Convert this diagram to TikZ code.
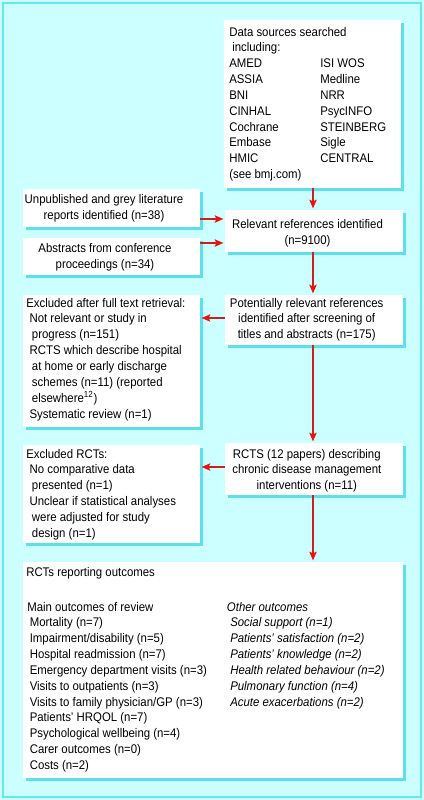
\documentclass[tikz,border=0pt]{standalone}
\usepackage{fontspec}
\setmainfont{Liberation Sans}[FakeStretch=0.91]
\usetikzlibrary{arrows.meta,fit,shadows}
\definecolor{bgc}{HTML}{CCFFFF}
\definecolor{framec}{HTML}{66E8EE}
\definecolor{shadc}{HTML}{5EE0EC}
\definecolor{linec}{HTML}{CC2020}
\definecolor{tipc}{HTML}{EE1111}
\newcommand\dfont{\fontsize{9.4}{11.9}\selectfont}
\tikzset{
  box/.style={fill=white, inner sep=0pt, draw=none,
    drop shadow={shadow xshift=2.25pt, shadow yshift=-2.25pt, fill=shadc, opacity=1}},
  txt/.style={inner sep=0pt, anchor=base west, font=\dfont},
  itxt/.style={inner sep=0pt, anchor=base west, font=\dfont\itshape},
  ctxt/.style={inner sep=0pt, anchor=base, font=\dfont},
  arr/.style={draw=linec, line width=1pt,
    -{Stealth[length=6.5pt,width=5.5pt,inset=1.2pt,color=tipc]}, shorten >=1pt}
}
\begin{document}
\begin{tikzpicture}[x=0.75pt,y=-0.75pt]
\useasboundingbox (0,0) rectangle (424,800);
\fill[bgc] (0,0) rectangle (424,800);
\draw[framec, line width=1.4pt] (3,3) rectangle (421,797);

% boxes
\node[box, fit={(224,20) (401,188)}] (ds) {};
\node[box, fit={(23,189) (200,227)}] (unp) {};
\node[box, fit={(225,210) (403,252)}] (rel) {};
\node[box, fit={(23,238) (200,275)}] (abs) {};
\node[box, fit={(23,295) (200,427)}] (exf) {};
\node[box, fit={(225,295) (403,345)}] (pot) {};
\node[box, fit={(23,445) (200,543)}] (exr) {};
\node[box, fit={(225,443) (403,495)}] (rcts) {};
\node[box, fit={(23,562) (403,778)}] (out) {};

% data sources
\node[txt] (ds0) at (229,36) {Data sources searched};
\node[txt] (ds1) at (232,51.9) {including:};
\foreach \a/\b [count=\i from 0] in {AMED/ISI WOS, ASSIA/Medline, BNI/NRR, CINHAL/PsycINFO, Cochrane/STEINBERG, Embase/Sigle, HMIC/CENTRAL} {
  \node[txt] (dsl\i) at (229,{67.7+15.85*\i}) {\a};
  \node[txt] (dsr\i) at (320,{67.7+15.85*\i}) {\b};
}
\node[txt] (ds9) at (229,178.6) {(see bmj.com)};

% unpublished
\node[ctxt] (unp1) at (104,203) {Unpublished and grey literature};
\node[ctxt] (unp2) at (104,219) {reports identified (n=38)};
% relevant
\node[ctxt] (rel1) at (307.5,228) {Relevant references identified};
\node[ctxt] (rel2) at (307.5,244) {(n=9100)};
% abstracts
\node[ctxt] (abs1) at (105,252) {Abstracts from conference};
\node[ctxt] (abs2) at (105,268) {proceedings (n=34)};
% excluded full text
\node[txt] (exf0) at (26,307) {Excluded after full text retrieval:};
\node[txt] (exf1) at (29.3,322.9) {Not relevant or study in};
\node[txt] (exf2) at (31.7,338.7) {progress (n=151)};
\node[txt] (exf3) at (29.3,354.6) {RCTS which describe hospital};
\node[txt] (exf4) at (31.7,370.4) {at home or early discharge};
\node[txt] (exf5) at (31.7,386.3) {schemes (n=11) (reported};
\node[txt] (exf6) at (31.7,402.1) {elsewhere\textsuperscript{12})};
\node[txt] (exf7) at (29.3,418) {Systematic review (n=1)};
% potentially relevant
\node[ctxt] (pot1) at (306.7,307) {Potentially relevant references};
\node[ctxt] (pot2) at (306.7,322.9) {identified after screening of};
\node[ctxt] (pot3) at (306.7,338.7) {titles and abstracts (n=175)};
% excluded RCTs
\node[txt] (exr0) at (26,458) {Excluded RCTs:};
\node[txt] (exr1) at (29.3,473.9) {No comparative data};
\node[txt] (exr2) at (31.7,489.7) {presented (n=1)};
\node[txt] (exr3) at (29.3,505.6) {Unclear if statistical analyses};
\node[txt] (exr4) at (31.7,521.4) {were adjusted for study};
\node[txt] (exr5) at (31.7,537.3) {design (n=1)};
% RCTS 12 papers
\node[ctxt] (rc1) at (306.8,458) {RCTS (12 papers) describing};
\node[ctxt] (rc2) at (306.8,473.9) {chronic disease management};
\node[ctxt] (rc3) at (306.8,489.7) {interventions (n=11)};
% outcomes
\node[txt] (o0) at (26,576) {RCTs reporting outcomes};
\node[txt] (m0) at (27,611) {Main outcomes of review};
\foreach \t [count=\i] in {Mortality (n=7), Impairment/disability (n=5), Hospital readmission (n=7), Emergency department visits (n=3), Visits to outpatients (n=3), Visits to family physician/GP (n=3), Patients' HRQOL (n=7), Psychological wellbeing (n=4), Carer outcomes (n=0), Costs (n=2)}
  \node[txt] (m\i) at (29.5,{611+15.85*\i}) {\t};
\node[itxt] (r0) at (226.7,611) {Other outcomes};
\foreach \t [count=\i] in {Social support (n=1), Patients' satisfaction (n=2), Patients' knowledge (n=2), Health related behaviour (n=2), Pulmonary function (n=4), Acute exacerbations (n=2)}
  \node[itxt] (r\i) at (230,{611+15.85*\i}) {\t};

% arrows
\draw[arr] (ds.south -| 313,0) -- (rel.north -| 313,0);
\draw[arr] (unp.east |- 0,219) -- (rel.west |- 0,219);
\draw[arr] (abs.east |- 0,243) -- (rel.west |- 0,243);
\draw[arr] (rel.south -| 313,0) -- (pot.north -| 313,0);
\draw[arr] (pot.west |- 0,318) -- (exf.east |- 0,318);
\draw[arr] (pot.south -| 313,0) -- (rcts.north -| 313,0);
\draw[arr] (rcts.west |- 0,467) -- (exr.east |- 0,467);
\draw[arr] (rcts.south -| 313,0) -- (out.north -| 313,0);
\end{tikzpicture}
\end{document}
